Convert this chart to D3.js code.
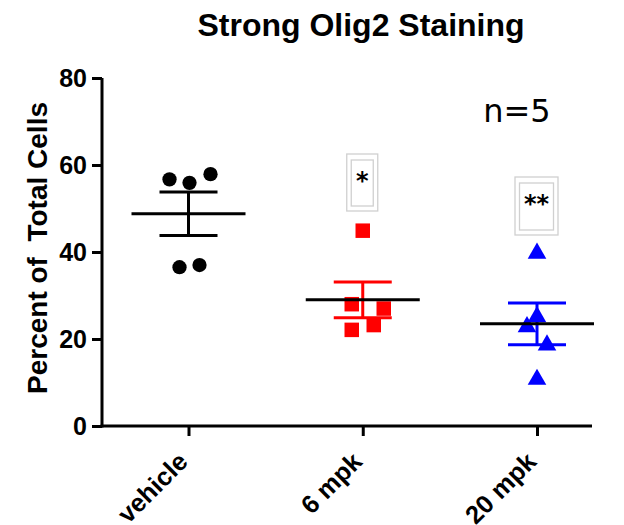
<!DOCTYPE html>
<html>
<head>
<meta charset="utf-8">
<script src="https://cdn.jsdelivr.net/npm/d3@7"></script>
<style>
  body { margin: 0; background: #fff; }
  svg { font-family: "Liberation Sans", Arial, sans-serif; }
</style>
</head>
<body>
<div id="chart"></div>
<script>
const categories = ["vehicle", "6 mpk", "20 mpk"];
const vehicleValues = [56.7, 55.9, 57.9, 36.5, 37.0];
const mpk6Values = [44.9, 28.0, 27.0, 22.1, 23.2];
const mpk20Values = [39.7, 22.8, 25.1, 18.6, 10.7];
// x jitter offsets of the points (in px, as drawn in the picture)
const vehicleJitter = [-19, 1, 22, -9, 11];
const mpk6Jitter = [0, -11, 21, -11, 11];
const mpk20Jitter = [0, -10, 0, 10, 0];
const meanValues = [48.8, 29.0, 23.5];
const semValues = [5.0, 4.1, 4.8];
const significance = ["", "*", "**"];
const yTicks = [0, 20, 40, 60, 80];
const colors = ["#000000", "#ff0000", "#0000ff"];

const width = 624, height = 525;

const svg = d3.select("#chart").append("svg")
  .attr("width", width)
  .attr("height", height);

const y = d3.scaleLinear().domain([0, 80]).range([426, 78]);
const x = d3.scalePoint().domain(categories).range([188.5, 537]);

// title
svg.append("text")
  .attr("x", 361).attr("y", 36)
  .attr("text-anchor", "middle")
  .style("font-weight", "bold")
  .style("font-size", "32px")
  .text("Strong Olig2 Staining");

// y axis
const yAxis = svg.append("g")
  .attr("transform", "translate(102,0)")
  .call(d3.axisLeft(y).tickValues(yTicks).tickSize(10).tickSizeOuter(0));
yAxis.select(".domain").attr("stroke-width", 3).attr("d", `M0,${y(80)}V${y(0) + 1.5}`);
yAxis.selectAll(".tick line").attr("stroke-width", 3);
yAxis.selectAll(".tick text")
  .attr("x", -15)
  .attr("dy", "0.35em")
  .style("font-size", "25px")
  .style("font-weight", "bold")
  .style("font-family", "'Liberation Sans', Arial, sans-serif");

svg.append("text")
  .attr("transform", "translate(47,248) rotate(-90)")
  .attr("text-anchor", "middle")
  .style("font-weight", "bold")
  .style("font-size", "28px")
  .style("white-space", "pre")
  .text("Percent of  Total Cells");

// x axis
const xAxis = svg.append("g")
  .attr("transform", `translate(0,${y(0)})`)
  .call(d3.axisBottom(x).tickSize(10).tickSizeOuter(0));
xAxis.select(".domain").attr("stroke-width", 3).attr("d", "M100.5,0H592");
xAxis.selectAll(".tick line").attr("stroke-width", 3);
xAxis.selectAll(".tick text")
  .attr("transform", "translate(-6,31) rotate(-45)")
  .attr("dy", "0.35em")
  .attr("y", 0)
  .attr("x", 0)
  .style("text-anchor", "end")
  .style("font-size", "25.5px")
  .style("font-weight", "bold")
  .style("font-family", "'Liberation Sans', Arial, sans-serif");

// error bars and means
categories.forEach((c, i) => {
  const cx = x(c);
  const g = svg.append("g").attr("stroke", colors[i]).attr("stroke-width", 3);
  g.append("line")
    .attr("x1", cx).attr("x2", cx)
    .attr("y1", y(meanValues[i] + semValues[i])).attr("y2", y(meanValues[i] - semValues[i]));
  [meanValues[i] + semValues[i], meanValues[i] - semValues[i]].forEach(v => {
    g.append("line")
      .attr("x1", cx - 29).attr("x2", cx + 29)
      .attr("y1", y(v)).attr("y2", y(v));
  });
});

// points
const groups = [
  {values: vehicleValues, jitter: vehicleJitter, shape: d3.symbolCircle, size: 160},
  {values: mpk6Values, jitter: mpk6Jitter, shape: d3.symbolSquare, size: 210},
  {values: mpk20Values, jitter: mpk20Jitter, shape: d3.symbolTriangle, size: 150}
];
groups.forEach((grp, i) => {
  svg.append("g").selectAll("path")
    .data(grp.values)
    .enter().append("path")
    .attr("d", d3.symbol().type(grp.shape).size(grp.size))
    .attr("transform", (d, j) => `translate(${x(categories[i]) + grp.jitter[j]},${y(d)})`)
    .attr("fill", colors[i]);
});

// mean lines drawn in black on top
categories.forEach((c, i) => {
  svg.append("line")
    .attr("x1", x(c) - 57).attr("x2", x(c) + 57)
    .attr("y1", y(meanValues[i])).attr("y2", y(meanValues[i]))
    .attr("stroke", "#000").attr("stroke-width", 3);
});

// significance boxes
const boxes = [null, {w: 31, h: 57, top: 154}, {w: 43, h: 58, top: 177}];
categories.forEach((c, i) => {
  if (!significance[i]) return;
  const b = boxes[i];
  const cx = x(c) - 0.5;
  svg.append("rect")
    .attr("x", cx - b.w / 2).attr("y", b.top)
    .attr("width", b.w).attr("height", b.h)
    .attr("fill", "none").attr("stroke", "#d0d0d0").attr("stroke-width", 1.3);
  svg.append("rect")
    .attr("x", cx - b.w / 2 + 4.5).attr("y", b.top + 6)
    .attr("width", b.w - 9).attr("height", b.h - 11)
    .attr("fill", "none").attr("stroke", "#d0d0d0").attr("stroke-width", 1.3);
  svg.append("text")
    .attr("x", cx).attr("y", b.top + 35)
    .attr("text-anchor", "middle")
    .style("font-family", "'DejaVu Sans', sans-serif")
    .style("font-weight", "bold")
    .style("font-size", "24px")
    .text(significance[i]);
});

svg.append("text")
  .attr("x", 517).attr("y", 122)
  .attr("text-anchor", "middle")
  .style("font-family", "'DejaVu Sans', sans-serif")
  .style("font-size", "32px")
  .text("n=5");
</script>
</body>
</html>
